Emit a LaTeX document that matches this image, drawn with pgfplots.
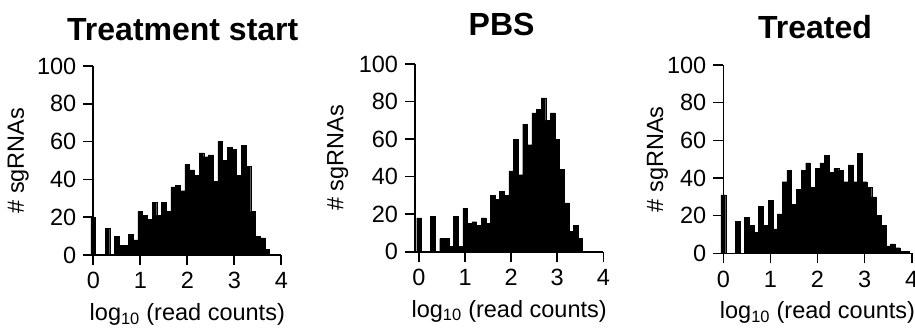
\documentclass[border=0pt]{standalone}
\usepackage{pgfplots}
\pgfplotsset{compat=1.18}
\usepackage{fontspec}
\setmainfont{Liberation Sans}
\pgfplotsset{
  hist/.style={
    scale only axis,
    ymin=0, ymax=100, xmin=0, xmax=4,
    axis x line*=bottom, axis y line*=left,
    axis line style={line width=1.6pt, -},
    every tick/.style={line width=1.6pt, black},
    tick align=outside, major tick length=10pt,
    xtick={0,1,2,3,4}, ytick={0,20,40,60,80,100},
    ticklabel style={font=\fontsize{23.5}{28}\selectfont},
    /pgf/number format/assume math mode=true,
    xticklabel style={yshift=-4pt},
    yticklabel style={xshift=-3.5pt},
    ybar, bar width=0.1,
    clip=false,
    xlabel={log\textsubscript{10} (read counts)},
    xlabel style={font=\fontsize{23.5}{28}\selectfont, at={(axis description cs:0.5,0)}, anchor=base, yshift=-65.5pt},
    ylabel={\# sgRNAs},
    title style={font=\fontsize{32}{38}\selectfont\bfseries, anchor=base},
  },
  histbar/.style={fill=black, draw=black, line width=0.3pt, bar shift=0pt},
}
\begin{document}
\begin{tikzpicture}
\path[use as bounding box] (0,0) rectangle (915pt,327pt);
% Panel 1
\begin{axis}[hist, at={(93.3pt,72pt)}, anchor=south west, width=188pt, height=189pt,
  title={Treatment start},
  title style={at={(axis description cs:0.476,1)}, yshift=19pt},
  ylabel style={font=\fontsize{23.5}{28}\selectfont, at={(axis description cs:-0.399,0.5)}, anchor=center, rotate=0}]
\addplot[histbar] coordinates {
(0.0,20) (0.3,14) (0.5,10) (0.6,5) (0.7,5) (0.8,11) (0.9,8)
(1.0,23) (1.1,21) (1.2,19) (1.3,28) (1.4,21) (1.5,28) (1.6,23) (1.7,36) (1.8,37) (1.9,34)
(2.0,48) (2.1,45) (2.2,42) (2.3,54) (2.4,52) (2.5,53) (2.6,39) (2.7,60) (2.8,50) (2.9,57)
(3.0,56) (3.1,42) (3.2,58) (3.3,47) (3.4,23) (3.5,10) (3.6,9) (3.7,3) (3.8,0.5)
};
\end{axis}
% Panel 2
\begin{axis}[hist, at={(415pt,75.3pt)}, anchor=south west, width=188.3pt, height=187.7pt,
  xmin=-0.087,
  title={PBS},
  title style={at={(axis description cs:0.46,1)}, yshift=22pt},
  ylabel style={font=\fontsize{23.5}{28}\selectfont, at={(axis description cs:-0.41,0.5)}, anchor=center, rotate=0}]
\addplot[histbar] coordinates {
(0.0,18) (0.3,19) (0.5,7) (0.6,7) (0.7,3) (0.8,19) (0.9,3)
(1.0,23) (1.1,15) (1.2,16) (1.3,14) (1.4,18) (1.5,15) (1.6,30) (1.7,28) (1.8,32) (1.9,30)
(2.0,43) (2.1,60) (2.2,41) (2.3,68) (2.4,57) (2.5,74) (2.6,76) (2.7,82) (2.8,70) (2.9,74)
(3.0,60) (3.1,44) (3.2,26) (3.3,11) (3.4,14) (3.5,7)
};
\end{axis}
% Panel 3
\begin{axis}[hist, at={(723.3pt,73.7pt)}, anchor=south west, width=188.4pt, height=188.3pt,
  title={Treated},
  title style={at={(axis description cs:0.487,1)}, yshift=20pt},
  ylabel style={font=\fontsize{23.5}{28}\selectfont, at={(axis description cs:-0.35,0.5)}, anchor=center, rotate=0}]
\addplot[histbar] coordinates {
(0.0,31) (0.3,17) (0.5,19) (0.6,15) (0.7,11) (0.8,25) (0.9,15)
(1.0,28) (1.1,13) (1.2,21) (1.3,38) (1.4,44) (1.5,26) (1.6,34) (1.7,44) (1.8,48) (1.9,35)
(2.0,45) (2.1,48) (2.2,52) (2.3,43) (2.4,45) (2.5,44) (2.6,38) (2.7,47) (2.8,38) (2.9,53)
(3.0,38) (3.1,35) (3.2,30) (3.3,20) (3.4,15) (3.5,4) (3.6,5) (3.7,3) (3.8,1) (3.9,1)
};
\end{axis}
\end{tikzpicture}
\end{document}
